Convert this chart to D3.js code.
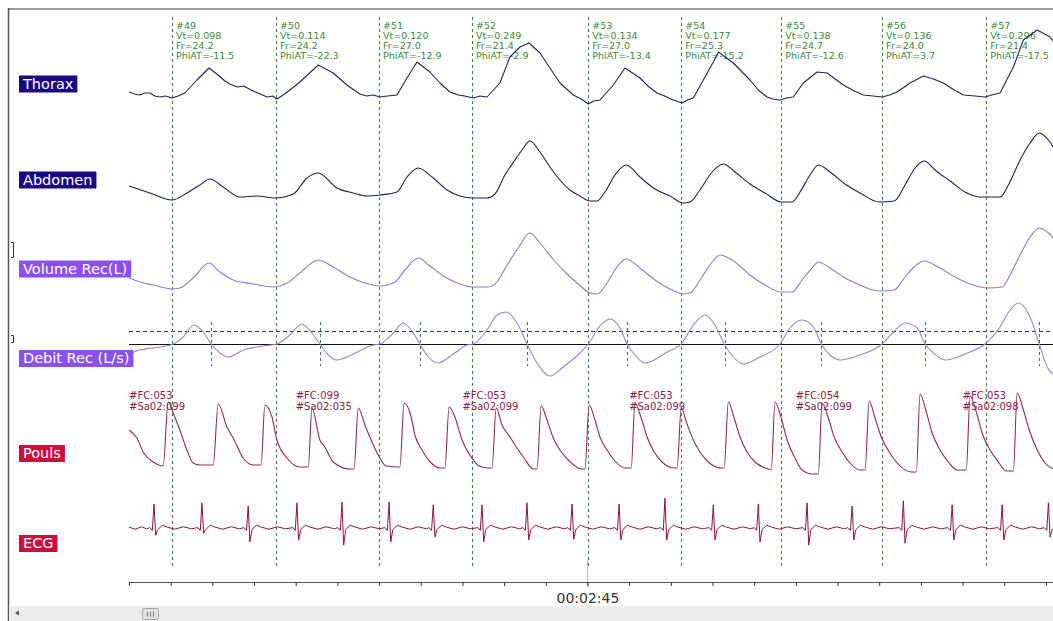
<!DOCTYPE html>
<html>
<head>
<meta charset="utf-8">
<script src="https://cdn.jsdelivr.net/npm/d3@7"></script>
<style>
  body { margin: 0; background: #fff; }
  svg { display: block; font-family: "DejaVu Sans", sans-serif; }
</style>
</head>
<body>
<div id="chart"></div>
<script>
// breath cycles (onset time in s, annotations)
var breathNums  = [49, 50, 51, 52, 53, 54, 55, 56, 57];
var breathTimes = [155.03, 157.53, 160.00, 162.23, 165.02, 167.25, 169.65, 172.07, 174.57];
var breathVt    = ["0.098", "0.114", "0.120", "0.249", "0.134", "0.177", "0.138", "0.136", "0.296"];
var breathFr    = ["24.2", "24.2", "27.0", "21.4", "27.0", "25.3", "24.7", "24.0", "21.4"];
var breathPhiAT = ["-11.5", "-22.3", "-12.9", "-2.9", "-13.4", "-15.2", "-12.6", "3.7", "-17.5"];
// end of inspiration marks
var expTimes = [155.96, 158.58, 160.98, 163.56, 165.96, 168.29, 170.61, 173.11, 175.83];

// pulse oximetry annotations
var pulseTimes = [154, 158, 162, 166, 170, 174];
var pulseFC    = ["053", "099", "053", "053", "054", "053"];
var pulseSaO2  = ["099", "035", "099", "099", "099", "098"];

// Thorax (a.u.)
var thorax = [
  [154.00,0.08],[154.13,0.06],[154.26,0.05],[154.38,0.07],[154.50,0.07],[154.62,0.04],[154.74,0.03],[154.88,0.04],[155.03,0.02],[155.18,0.04],[155.34,0.07],[155.63,0.20],[155.92,0.32],
  [156.14,0.25],[156.30,0.19],[156.42,0.16],[156.60,0.13],[156.75,0.14],[156.98,0.09],[157.15,0.06],[157.31,0.03],[157.45,0.04],[157.55,0.01],[157.70,0.05],[157.86,0.10],[158.10,0.18],[158.54,0.35],
  [158.90,0.27],[159.23,0.15],[159.40,0.10],[159.54,0.06],[159.70,0.04],[159.86,0.05],[160.02,0.03],[160.20,0.04],[160.43,0.05],[160.67,0.22],[160.91,0.38],[161.22,0.28],
  [161.46,0.17],[161.70,0.08],[161.90,0.05],[162.05,0.04],[162.26,0.02],[162.42,0.04],[162.59,0.03],[162.90,0.17],[163.14,0.43],[163.38,0.53],[163.60,0.57],
  [163.86,0.47],[164.10,0.32],[164.34,0.17],[164.66,0.05],[164.85,0.01],[165.02,-0.04],[165.15,-0.01],[165.30,0.00],[165.62,0.15],[165.90,0.32],
  [166.26,0.22],[166.45,0.14],[166.67,0.07],[166.85,0.04],[167.06,0.00],[167.27,-0.03],[167.40,0.00],[167.54,0.02],[167.78,0.20],[168.02,0.38],[168.14,0.48],
  [168.50,0.37],[168.90,0.20],[169.10,0.10],[169.31,0.03],[169.45,0.01],[169.62,0.00],[169.78,0.02],[169.94,0.03],[170.18,0.17],[170.51,0.28],[170.75,0.27],
  [171.14,0.15],[171.40,0.09],[171.62,0.05],[171.85,0.04],[172.07,0.03],[172.25,0.05],[172.43,0.08],[172.74,0.17],[173.06,0.24],[173.30,0.21],[173.54,0.17],[173.80,0.10],[174.02,0.05],
  [174.30,0.04],[174.54,0.03],[174.70,0.05],[174.90,0.07],[175.22,0.33],[175.46,0.60],[175.79,0.70],[176.10,0.63],[176.25,0.55]
];

// Abdomen (a.u.)
var abdomen = [
  [154.00,0.14],[154.50,0.07],[155.03,0.00],[155.39,0.07],[155.70,0.15],[155.94,0.21],[156.26,0.13],[156.66,0.03],
  [157.07,0.04],[157.50,0.02],[157.94,0.06],[158.27,0.22],[158.54,0.27],[158.99,0.12],[159.38,0.07],[159.71,0.04],
  [160.02,0.05],[160.43,0.08],[160.67,0.23],[160.94,0.32],[161.30,0.22],[161.63,0.10],[161.94,0.04],[162.23,0.02],
  [162.59,0.02],[162.78,0.06],[163.02,0.25],[163.26,0.40],[163.43,0.50],[163.62,0.59],[163.86,0.48],[164.10,0.33],
  [164.34,0.20],[164.58,0.10],[164.82,0.04],[165.06,-0.01],[165.23,-0.01],[165.42,0.08],[165.66,0.25],[165.93,0.35],
  [166.26,0.23],[166.62,0.11],[166.98,0.04],[167.30,-0.03],[167.46,-0.02],[167.70,0.10],[167.99,0.28],[168.26,0.36],
  [168.54,0.28],[168.90,0.16],[169.26,0.07],[169.65,-0.02],[169.91,-0.02],[170.10,0.08],[170.34,0.25],[170.54,0.35],
  [170.82,0.28],[171.18,0.16],[171.54,0.07],[172.00,-0.02],[172.36,-0.01],[172.62,0.15],[172.86,0.32],[173.08,0.39],
  [173.34,0.30],[173.70,0.19],[174.06,0.08],[174.42,0.03],[174.90,0.03],[175.10,0.15],[175.38,0.40],[175.62,0.57],
  [175.84,0.67],[176.06,0.60],[176.25,0.48]
];

// Volume Rec (L)
var volume = [
  [154.00,0.048],[154.26,0.032],[154.58,0.020],[155.03,0.004],[155.22,0.008],[155.54,0.048],[155.92,0.108],[156.18,0.072],
  [156.50,0.040],[156.98,0.024],[157.46,0.012],[157.79,0.028],[158.10,0.068],[158.54,0.120],[158.90,0.092],[159.30,0.052],
  [159.66,0.028],[160.02,0.016],[160.38,0.032],[160.62,0.080],[160.94,0.128],[161.22,0.096],[161.58,0.052],[161.94,0.024],
  [162.23,0.012],[162.62,0.012],[162.83,0.032],[163.07,0.100],[163.34,0.168],[163.62,0.228],[163.86,0.188],[164.15,0.128],
  [164.46,0.072],[164.78,0.024],[165.06,-0.012],[165.23,-0.016],[165.47,0.028],[165.69,0.088],[165.93,0.124],[166.26,0.088],
  [166.62,0.040],[166.98,0.004],[167.30,-0.016],[167.46,-0.012],[167.70,0.040],[167.99,0.112],[168.18,0.140],[168.54,0.112],
  [168.90,0.060],[169.26,0.020],[169.65,-0.008],[169.91,-0.008],[170.15,0.040],[170.39,0.088],[170.54,0.112],[170.82,0.088],
  [171.18,0.048],[171.54,0.020],[172.00,-0.004],[172.36,0.000],[172.62,0.052],[172.86,0.096],[173.08,0.116],[173.46,0.088],
  [173.82,0.052],[174.18,0.024],[174.62,0.008],[174.95,0.012],[175.14,0.060],[175.38,0.140],[175.62,0.212],[175.84,0.248],
  [176.06,0.228],[176.25,0.192]
];

// Debit Rec (L/s)
var debit = [
  [154.00,-0.05],[154.26,-0.03],[154.58,-0.02],[155.06,0.00],[155.30,0.035],[155.56,0.095],[155.78,0.06],[155.97,0.00],
  [156.18,-0.045],[156.38,-0.065],[156.74,-0.03],[157.22,-0.01],[157.55,0.00],[157.86,0.045],[158.15,0.10],[158.39,0.055],
  [158.58,0.00],[158.78,-0.055],[158.99,-0.08],[159.38,-0.05],[159.86,-0.005],[160.02,0.00],[160.34,0.055],[160.58,0.105],
  [160.82,0.055],[160.98,0.00],[161.18,-0.065],[161.42,-0.095],[161.78,-0.05],[162.11,-0.005],[162.26,0.00],[162.59,0.07],
  [162.83,0.145],[163.05,0.16],[163.31,0.105],[163.55,0.00],[163.79,-0.095],[164.10,-0.16],[164.42,-0.115],[164.82,-0.045],
  [165.02,0.00],[165.30,0.09],[165.54,0.125],[165.78,0.08],[165.95,0.00],[166.10,-0.045],[166.38,-0.095],[166.91,-0.04],
  [167.25,0.00],[167.54,0.095],[167.82,0.145],[168.06,0.095],[168.28,0.00],[168.50,-0.065],[168.74,-0.10],[169.14,-0.065],
  [169.62,0.00],[169.86,0.08],[170.15,0.12],[170.42,0.085],[170.61,0.00],[170.82,-0.055],[171.06,-0.08],[171.54,-0.055],
  [172.07,0.00],[172.34,0.06],[172.62,0.105],[172.91,0.08],[173.10,0.00],[173.30,-0.045],[173.58,-0.08],[174.11,-0.045],
  [174.54,0.00],[174.90,0.085],[175.14,0.17],[175.34,0.205],[175.62,0.135],[175.84,0.00],[176.03,-0.115],[176.25,-0.16]
];

// Pouls (a.u.)
var pouls = [
  [154.00,0.40],[154.19,0.32],[154.34,0.18],[154.58,0.08],[154.82,0.04],
  [154.94,0.68],[155.06,0.57],[155.22,0.40],[155.39,0.20],[155.54,0.07],[155.70,0.05],[156.02,0.05],
  [156.14,0.66],[156.35,0.43],[156.50,0.32],[156.74,0.12],[156.98,0.05],[157.17,0.05],
  [157.26,0.65],[157.43,0.53],[157.55,0.30],[157.79,0.12],[158.10,0.03],[158.30,0.03],
  [158.39,0.62],[158.58,0.30],[158.70,0.23],[158.90,0.08],[159.30,0.01],[159.40,0.01],
  [159.50,0.62],[159.66,0.45],[159.81,0.30],[159.98,0.15],[160.17,0.04],[160.50,0.03],
  [160.60,0.67],[160.77,0.53],[160.86,0.35],[161.03,0.20],[161.25,0.07],[161.46,0.02],[161.58,0.02],
  [161.68,0.63],[161.82,0.53],[161.99,0.30],[162.21,0.13],[162.40,0.04],[162.62,0.02],[162.71,0.02],
  [162.81,0.62],[162.95,0.45],[163.14,0.33],[163.31,0.22],[163.48,0.12],[163.70,0.01],[163.79,0.01],
  [163.89,0.64],[164.03,0.50],[164.18,0.32],[164.34,0.20],[164.54,0.10],[164.85,0.01],[164.94,0.01],
  [165.04,0.65],[165.18,0.50],[165.30,0.33],[165.47,0.20],[165.66,0.09],[165.90,0.02],[166.05,0.02],
  [166.14,0.67],[166.29,0.52],[166.43,0.33],[166.60,0.18],[166.79,0.08],[167.08,0.02],[167.15,0.02],
  [167.25,0.62],[167.39,0.46],[167.54,0.30],[167.70,0.18],[167.90,0.08],[168.21,0.02],[168.28,0.02],
  [168.38,0.68],[168.52,0.52],[168.66,0.33],[168.83,0.18],[169.02,0.08],[169.34,0.01],[169.41,0.00],
  [169.50,0.68],[169.65,0.52],[169.79,0.30],[169.98,0.12],[170.15,0.00],[170.39,-0.04],[170.54,-0.04],
  [170.63,0.67],[170.78,0.52],[170.92,0.33],[171.11,0.18],[171.30,0.07],[171.54,0.00],[171.66,0.00],
  [171.76,0.69],[171.90,0.52],[172.05,0.33],[172.24,0.18],[172.43,0.07],[172.77,-0.02],[172.89,-0.02],
  [172.98,0.76],[173.13,0.58],[173.27,0.37],[173.46,0.20],[173.66,0.08],[173.87,0.00],[174.09,0.00],
  [174.18,0.74],[174.33,0.58],[174.47,0.37],[174.66,0.20],[174.86,0.08],[175.05,-0.01],[175.22,-0.01],
  [175.31,0.77],[175.46,0.60],[175.60,0.40],[175.79,0.20],[175.98,0.07],[176.25,0.00]
];

// ECG (mV)
var ecg = [
  [154.00,0.02],[154.15,-0.03],[154.30,0.03],[154.42,-0.02],
  [154.50,0.01],[154.56,-0.06],[154.60,0.60],[154.64,-0.18],[154.69,-0.04],[154.80,0.07],[154.92,0.02],[155.10,-0.03],[155.30,0.03],[155.50,-0.02],
  [155.65,0.01],[155.71,-0.06],[155.75,0.63],[155.79,-0.13],[155.84,-0.04],[155.95,0.07],[156.07,0.02],[156.25,-0.03],[156.45,0.03],[156.65,-0.02],
  [156.76,0.01],[156.82,-0.06],[156.86,0.55],[156.90,-0.35],[156.95,-0.04],[157.06,0.07],[157.18,0.02],[157.36,-0.03],[157.56,0.03],[157.76,-0.02],
  [157.93,0.01],[157.99,-0.06],[158.03,0.63],[158.07,-0.30],[158.12,-0.04],[158.23,0.07],[158.35,0.02],[158.53,-0.03],[158.73,0.03],[158.93,-0.02],
  [159.01,0.01],[159.07,-0.06],[159.11,0.65],[159.15,-0.43],[159.20,-0.04],[159.31,0.07],[159.43,0.02],[159.61,-0.03],[159.81,0.03],[160.01,-0.02],
  [160.14,0.01],[160.20,-0.06],[160.24,0.65],[160.28,-0.35],[160.33,-0.04],[160.44,0.07],[160.56,0.02],[160.74,-0.03],[160.94,0.03],[161.14,-0.02],
  [161.20,0.01],[161.26,-0.06],[161.30,0.58],[161.34,-0.23],[161.39,-0.04],[161.50,0.07],[161.62,0.02],[161.80,-0.03],[162.00,0.03],[162.20,-0.02],
  [162.37,0.01],[162.43,-0.06],[162.47,0.58],[162.51,-0.35],[162.56,-0.04],[162.67,0.07],[162.79,0.02],[162.97,-0.03],[163.17,0.03],[163.37,-0.02],
  [163.45,0.01],[163.51,-0.06],[163.55,0.63],[163.59,-0.30],[163.64,-0.04],[163.75,0.07],[163.87,0.02],[164.05,-0.03],[164.25,0.03],[164.45,-0.02],
  [164.53,0.01],[164.59,-0.06],[164.63,0.60],[164.67,-0.28],[164.72,-0.04],[164.83,0.07],[164.95,0.02],[165.13,-0.03],[165.33,0.03],[165.53,-0.02],
  [165.66,0.01],[165.72,-0.06],[165.76,0.60],[165.80,-0.30],[165.85,-0.04],[165.96,0.07],[166.08,0.02],[166.26,-0.03],[166.46,0.03],[166.66,-0.02],
  [166.76,0.01],[166.82,-0.06],[166.86,0.75],[166.90,-0.30],[166.95,-0.04],[167.06,0.07],[167.18,0.02],[167.36,-0.03],[167.56,0.03],[167.76,-0.02],
  [167.92,0.01],[167.98,-0.06],[168.02,0.58],[168.06,-0.30],[168.11,-0.04],[168.22,0.07],[168.34,0.02],[168.52,-0.03],[168.72,0.03],[168.92,-0.02],
  [169.00,0.01],[169.06,-0.06],[169.10,0.60],[169.14,-0.35],[169.19,-0.04],[169.30,0.07],[169.42,0.02],[169.60,-0.03],[169.80,0.03],[170.00,-0.02],
  [170.17,0.01],[170.23,-0.06],[170.27,0.63],[170.31,-0.43],[170.36,-0.04],[170.47,0.07],[170.59,0.02],[170.77,-0.03],[170.97,0.03],[171.17,-0.02],
  [171.25,0.01],[171.31,-0.06],[171.35,0.55],[171.39,-0.30],[171.44,-0.04],[171.55,0.07],[171.67,0.02],[171.85,-0.03],[172.05,0.03],[172.25,-0.02],
  [172.48,0.01],[172.54,-0.06],[172.58,0.68],[172.62,-0.38],[172.67,-0.04],[172.78,0.07],[172.90,0.02],[173.08,-0.03],[173.28,0.03],[173.48,-0.02],
  [173.65,0.01],[173.71,-0.06],[173.75,0.58],[173.79,-0.30],[173.84,-0.04],[173.95,0.07],[174.07,0.02],[174.25,-0.03],[174.45,0.03],[174.65,-0.02],
  [174.85,0.01],[174.91,-0.06],[174.95,0.58],[174.99,-0.30],[175.04,-0.04],[175.15,0.07],[175.27,0.02],[175.45,-0.03],[175.65,0.03],[175.85,-0.02],
  [175.96,0.01],[176.02,-0.06],[176.06,0.63],[176.10,-0.23],[176.15,-0.04],[176.26,0.07]
];

var width = 1053, height = 621;

var svg = d3.select("#chart").append("svg")
    .attr("width", width)
    .attr("height", height);

// time scale, 1 tick per second
var x = d3.scaleLinear()
    .domain([154, 176.17])
    .range([129, 1053]);

// one y scale per channel
var channels = [
  {label: "Thorax", data: thorax, y: d3.scaleLinear().domain([0, 1]).range([100, 0]),
   stroke: "#22225a", bg: "#1a0a80", top: 75.5, curve: d3.curveLinear, sw: 1.1},
  {label: "Abdomen", data: abdomen, y: d3.scaleLinear().domain([0, 1]).range([200, 100]),
   stroke: "#1e1e50", bg: "#1a0a80", top: 171.5, curve: d3.curveMonotoneX, sw: 1.1},
  {label: "Volume Rec(L)", data: volume, y: d3.scaleLinear().domain([0, 0.25]).range([290, 227.5]),
   stroke: "#9078c8", bg: "#8a50ee", top: 260.5, curve: d3.curveMonotoneX, sw: 1.1},
  {label: "Debit Rec (L/s)", data: debit, y: d3.scaleLinear().domain([-0.2, 0.2]).range([384, 304]),
   stroke: "#9c86cc", bg: "#8a50ee", top: 350, curve: d3.curveMonotoneX, sw: 1.1},
  {label: "Pouls", data: pouls, y: d3.scaleLinear().domain([0, 0.7]).range([470, 400]),
   stroke: "#8c2a56", bg: "#c8103e", top: 445, curve: d3.curveMonotoneX, sw: 1.1},
  {label: "ECG", data: ecg, y: d3.scaleLinear().domain([-0.5, 0.8]).range([548, 496]),
   stroke: "#8e1442", bg: "#c8103e", top: 535, curve: d3.curveLinear, sw: 1}
];
var yDebit = channels[3].y;

function crisp(v) { return Math.round(v) + 0.5; }

svg.append("defs").append("clipPath")
    .attr("id", "plotclip")
  .append("rect")
    .attr("x", 129).attr("y", 0)
    .attr("width", width - 129).attr("height", height);

// window frame
svg.append("line")
    .attr("x1", 8).attr("x2", width).attr("y1", 9).attr("y2", 9)
    .style("stroke", "#9a9a9a").style("stroke-width", 2);
svg.append("line")
    .attr("x1", 8.5).attr("x2", 8.5).attr("y1", 8).attr("y2", height)
    .style("stroke", "#555").style("stroke-width", 1.5);

// small brackets on the left
[[242, 257], [335, 342]].forEach(function(b) {
  svg.append("path")
    .attr("d", "M11," + (b[0] + 0.5) + "H13.5V" + (b[1] + 0.5) + "H11")
    .style("fill", "none").style("stroke", "#333");
});

// debit reference lines
svg.append("line")
    .attr("x1", 129).attr("x2", width)
    .attr("y1", crisp(yDebit(0.065))).attr("y2", crisp(yDebit(0.065)))
    .style("stroke", "#333").style("stroke-dasharray", "4,3");
svg.append("line")
    .attr("x1", 129).attr("x2", width)
    .attr("y1", crisp(yDebit(0))).attr("y2", crisp(yDebit(0)))
    .style("stroke", "#111");

// breath onset markers
svg.selectAll(".breath")
    .data(breathTimes)
  .enter().append("line")
    .attr("class", "breath")
    .attr("x1", function(d) { return crisp(x(d)); })
    .attr("x2", function(d) { return crisp(x(d)); })
    .attr("y1", 17).attr("y2", 568)
    .style("stroke", "#3d7d3d")
    .style("stroke-dasharray", "3,3");

// end of inspiration marks
svg.selectAll(".exp")
    .data(expTimes)
  .enter().append("line")
    .attr("class", "exp")
    .attr("x1", function(d) { return crisp(x(d)); })
    .attr("x2", function(d) { return crisp(x(d)); })
    .attr("y1", yDebit(0.11)).attr("y2", yDebit(-0.11))
    .style("stroke", "#3d7d3d")
    .style("stroke-dasharray", "3,3");

// breath annotations
var ann = svg.selectAll(".ann")
    .data(breathTimes)
  .enter().append("text")
    .attr("class", "ann")
    .attr("x", function(d) { return x(d) + 4; })
    .attr("y", 29)
    .style("font-size", "9.5px")
    .style("fill", "#3a883a");
ann.each(function(d, i) {
  var lines = ["#" + breathNums[i], "Vt=" + breathVt[i], "Fr=" + breathFr[i], "PhiAT=" + breathPhiAT[i]];
  var t = d3.select(this);
  lines.forEach(function(l, j) {
    t.append("tspan").attr("x", x(d) + 4).attr("dy", j ? 10 : 0).text(l);
  });
});

// pulse annotations
var pa = svg.selectAll(".pann")
    .data(pulseTimes)
  .enter().append("text")
    .attr("class", "pann")
    .attr("y", 399)
    .style("font-size", "10px")
    .style("fill", "#8a1a4a");
pa.each(function(d, i) {
  var t = d3.select(this);
  t.append("tspan").attr("x", x(d)).text("#FC:" + pulseFC[i]);
  t.append("tspan").attr("x", x(d)).attr("dy", 10.5).text("#Sa02:" + pulseSaO2[i]);
});

// traces
var traces = svg.append("g").attr("clip-path", "url(#plotclip)");
channels.forEach(function(c) {
  var line = d3.line()
      .x(function(d) { return x(d[0]); })
      .y(function(d) { return c.y(d[1]); })
      .curve(c.curve);
  traces.append("path")
      .datum(c.data)
      .attr("d", line)
      .style("fill", "none")
      .style("stroke", c.stroke)
      .style("stroke-width", c.sw)
      .style("stroke-linejoin", "round");
});

// channel labels
channels.forEach(function(c) {
  var g = svg.append("g");
  var txt = g.append("text")
      .attr("x", 23)
      .attr("y", c.top + 13)
      .style("font-size", "14.5px")
      .style("fill", "#fff")
      .text(c.label);
  var w = txt.node().getComputedTextLength();
  g.insert("rect", "text")
      .attr("x", 19).attr("y", c.top)
      .attr("width", w + 8).attr("height", 17)
      .style("fill", c.bg);
});

// time axis
function fmtTime(s) {
  var h = Math.floor(s / 3600), m = Math.floor((s % 3600) / 60), sec = Math.round(s % 60);
  return d3.format("02")(h) + ":" + d3.format("02")(m) + ":" + d3.format("02")(sec);
}
var xAxis = d3.axisBottom(x)
    .tickValues(d3.range(154, 177))
    .tickSizeInner(4)
    .tickSizeOuter(0)
    .tickFormat(function(d) { return d === 165 ? fmtTime(d) : ""; });

svg.append("line")
    .attr("x1", crisp(x(165))).attr("x2", crisp(x(165)))
    .attr("y1", 560).attr("y2", 587)
    .style("stroke", "#bbb");

var ax = svg.append("g")
    .attr("transform", "translate(0,582)")
    .call(xAxis);
ax.select(".domain").style("stroke", "#555");
ax.selectAll(".tick line").style("stroke", "#333");
ax.selectAll(".tick text")
    .attr("y", 21).attr("dy", 0)
    .style("font-family", "DejaVu Sans, sans-serif")
    .style("font-size", "14px")
    .style("fill", "#333");

// scrollbar
svg.append("rect")
    .attr("x", 9).attr("y", 606)
    .attr("width", width - 9).attr("height", 15)
    .style("fill", "#ececec");
svg.append("path")
    .attr("d", "M15,613L19,610.5V615.5Z")
    .style("fill", "#555");
svg.append("rect")
    .attr("x", 142.5).attr("y", 608.5)
    .attr("width", 16).attr("height", 11).attr("rx", 2)
    .style("fill", "#e2e2e2").style("stroke", "#a5a5a5");
[147.5, 150.5, 153.5].forEach(function(gx) {
  svg.append("line")
    .attr("x1", gx).attr("x2", gx).attr("y1", 611.5).attr("y2", 616.5)
    .style("stroke", "#777");
});
</script>
</body>
</html>
